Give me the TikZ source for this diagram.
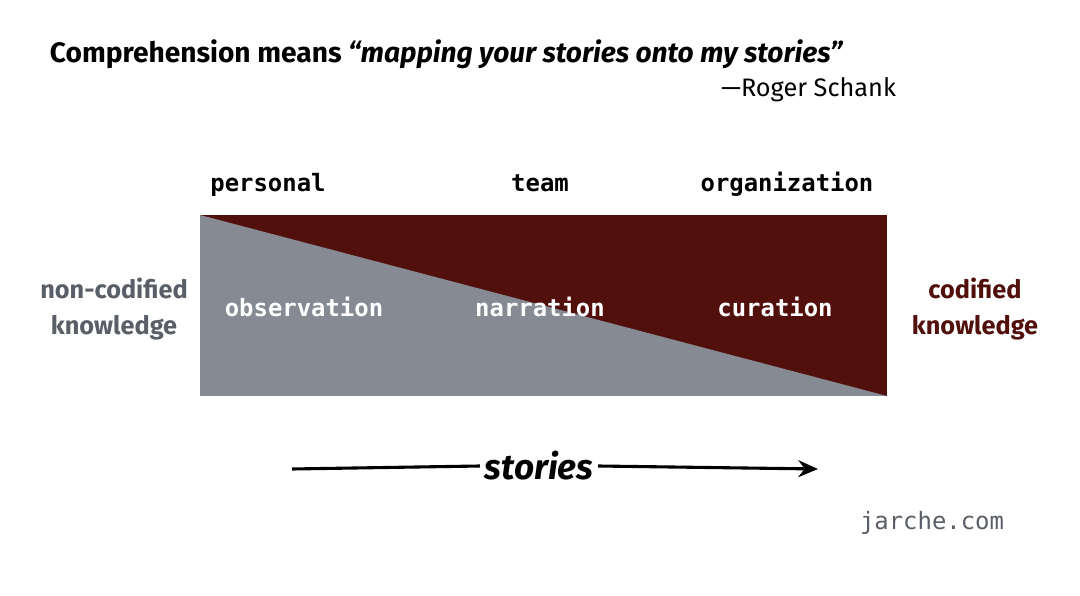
\documentclass[tikz,border=0pt]{standalone}
\usepackage{fontspec}
\setmainfont{Fira Sans}
\setmonofont{DejaVu Sans Mono}
\usetikzlibrary{arrows.meta}
\definecolor{stonegray}{HTML}{858A93}
\definecolor{darkmaroon}{HTML}{52100D}
\definecolor{textgray}{HTML}{5A5E66}

\begin{document}
\begin{tikzpicture}[x=0.025cm,y=-0.025cm,
  level label/.style={font=\ttfamily\bfseries\fontsize{17}{20}\selectfont,anchor=base},
  mode label/.style={font=\ttfamily\bfseries\fontsize{17}{20}\selectfont,text=white,anchor=base},
  side label/.style={font=\bfseries\fontsize{18}{26}\selectfont,align=center}]

  \useasboundingbox (0,0) rectangle (1080,596);

  \node[anchor=base west,font=\bfseries\fontsize{20}{24}\selectfont] (title) at (45,63)
    {Comprehension means \textit{“mapping your stories onto my stories”}};
  \node[anchor=base east,font=\fontsize{18}{22}\selectfont] (author) at (901,97) {—Roger Schank};

  \fill[darkmaroon] (200,215) rectangle (887,396);
  \fill[stonegray] (200,215) -- (887,396) -- (200,396) -- cycle;

  \node[level label] (personal) at (268,192) {personal};
  \node[level label] (team) at (540,192) {team};
  \node[level label] (org) at (787,192) {organization};

  \node[mode label] (obs) at (304,317) {observation};
  \node[mode label] (narr) at (540,317) {narration};
  \node[mode label] (cur) at (775,317) {curation};

  \node[side label,text=textgray] (noncod) at (114,309) {non-codified\\knowledge};
  \node[side label,text=darkmaroon] (cod) at (975,309) {codified\\knowledge};

  \node[font=\bfseries\itshape\fontsize{25}{30}\selectfont] (stories) at (539,466) {stories};
  \coordinate (start) at (292,469);
  \coordinate (finish) at (818,469);
  \draw[line width=2.2pt] (start) -- (stories.west);
  \draw[line width=2.2pt,-{Stealth[length=14pt,width=12pt]}] (stories.east) -- (finish);

  \node[anchor=base,font=\ttfamily\fontsize{17}{20}\selectfont,text=textgray] (site) at (932,530) {jarche.com};

\end{tikzpicture}
\end{document}
